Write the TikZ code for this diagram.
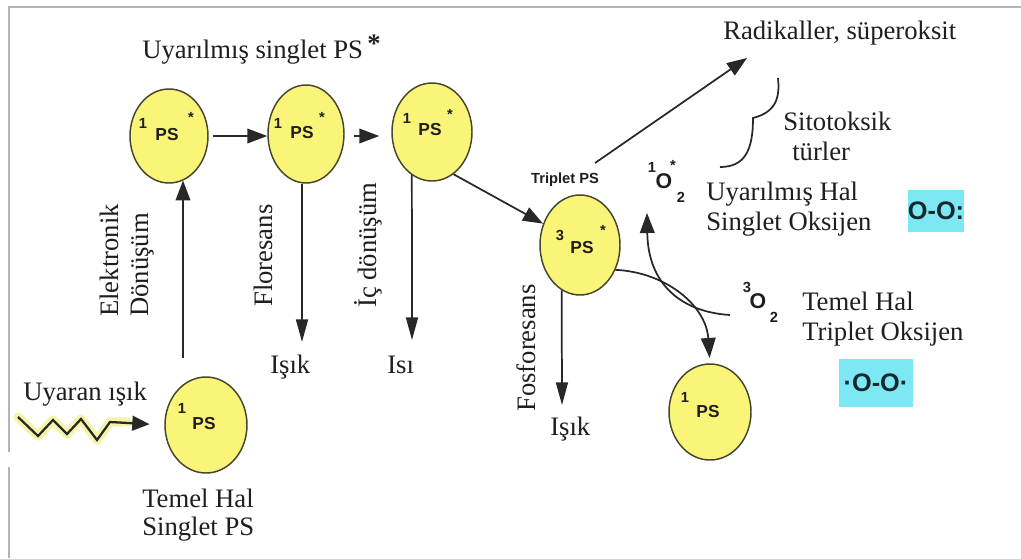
\documentclass[tikz,border=0pt]{standalone}
\usepackage{fontspec}
\setmainfont{Liberation Serif}
\newfontfamily\arialf{Liberation Sans}
\usetikzlibrary{shapes.geometric,arrows.meta}
\definecolor{psfill}{RGB}{250,245,120}
\definecolor{psdraw}{RGB}{70,70,45}
\definecolor{lnc}{RGB}{40,40,40}
\definecolor{boxc}{RGB}{125,232,243}
\definecolor{boxtxt}{RGB}{20,40,45}
\definecolor{framec}{RGB}{180,180,180}
\definecolor{txtc}{RGB}{30,30,30}
\definecolor{glowc}{RGB}{245,245,170}
\begin{document}
\begin{tikzpicture}[x=0.75pt,y=-0.75pt,
 psell/.style={ellipse, draw=psdraw, fill=psfill, line width=1.1pt, inner sep=0pt, minimum width=59pt, minimum height=72pt},
 arr/.style={draw=lnc, line width=1.3pt, -{Triangle[length=15pt,width=11pt]}},
 varr/.style={draw=lnc, line width=1.3pt, -{Triangle[length=17pt,width=9pt]}},
 lbl/.style={font=\fontsize{20}{22}\selectfont, inner sep=0pt, text=txtc},
 psf/.style={font=\arialf\bfseries\fontsize{13}{13}\selectfont, inner sep=0pt, text=txtc},
 supf/.style={font=\arialf\bfseries\fontsize{11}{11}\selectfont, inner sep=0pt, text=txtc},
 starf/.style={font=\arialf\bfseries\fontsize{11}{11}\selectfont, inner sep=0pt, text=txtc},
 of/.style={font=\arialf\bfseries\fontsize{16}{16}\selectfont, inner sep=0pt, text=txtc},
 smallbold/.style={font=\arialf\bfseries\fontsize{11}{11}\selectfont, inner sep=0pt, text=txtc},
 cyanbox/.style={fill=boxc, inner sep=0pt, font=\arialf\bfseries\fontsize{19}{19}\selectfont, text=boxtxt}
]
\useasboundingbox (0,0) rectangle (1021,558);
\fill[white] (0,0) rectangle (1021,558);
% frame
\draw[framec, line width=1.5pt] (9,558) -- (9,467);
\draw[framec, line width=1.5pt] (9,452) -- (9,7) -- (1021,7);

% ellipses
\node[psell, minimum width=58.5pt, minimum height=70.5pt] (e1) at (169,136) {};
\node[psell, minimum width=57pt, minimum height=73.5pt] (e2) at (306,134) {};
\node[psell, minimum width=60pt, minimum height=73.5pt] (e3) at (432,132) {};
\node[psell, minimum width=60pt, minimum height=75pt] (t) at (580,245) {};
\node[psell, minimum width=61.5pt, minimum height=72pt] (e0) at (206,425) {};
\node[psell, minimum width=61.5pt, minimum height=72pt] (e5) at (710,412) {};

% ellipse contents
\node[supf] at ([shift={(-26,-13)}]e1.center) {1};
\node[psf] at ([shift={(-2,-1)}]e1.center) {PS};
\node[starf] at ([shift={(22,-19)}]e1.center) {*};
\node[supf] at ([shift={(-28,-11)}]e2.center) {1};
\node[psf] at ([shift={(-4,-1)}]e2.center) {PS};
\node[starf] at ([shift={(16,-17)}]e2.center) {*};
\node[supf] at ([shift={(-25,-14)}]e3.center) {1};
\node[psf] at ([shift={(-2,-2)}]e3.center) {PS};
\node[starf] at ([shift={(18,-18)}]e3.center) {*};
\node[supf] at ([shift={(-20,-10)}]t.center) {3};
\node[psf] at ([shift={(2,3)}]t.center) {PS};
\node[starf] at ([shift={(23,-15)}]t.center) {*};
\node[supf] at ([shift={(-24,-17)}]e0.center) {1};
\node[psf] at ([shift={(-2,-1)}]e0.center) {PS};
\node[supf] at ([shift={(-25,-15)}]e5.center) {1};
\node[psf] at ([shift={(-2,0)}]e5.center) {PS};

% labels
\node[lbl, anchor=base west] (title) at (142,58) {Uyarılmış singlet PS\,\raisebox{4pt}{\textbf{*}}};
\node[lbl, anchor=base west] (rad) at (723,39) {Radikaller, süperoksit};
\node[lbl, anchor=base west] (sito) at (783,130) {Sitotoksik};
\node[lbl, anchor=base west] (turler) at (792,160) {türler};
\node[lbl, anchor=base west] (uh) at (706,200) {Uyarılmış Hal};
\node[lbl, anchor=base west] (so) at (706,230) {Singlet Oksijen};
\node[lbl, anchor=base west] (th2) at (802,310) {Temel Hal};
\node[lbl, anchor=base west] (to) at (802,340) {Triplet Oksijen};
\node[lbl, anchor=base west] (isik1) at (270,373) {Işık};
\node[lbl, anchor=base west] (isi) at (387,373) {Isı};
\node[lbl, anchor=base west] (isik2) at (550,435) {Işık};
\node[lbl, anchor=base west] (uyaran) at (23,400) {Uyaran ışık};
\node[lbl, anchor=base west] (th1) at (142,507) {Temel Hal};
\node[lbl, anchor=base west] (sps) at (142,535) {Singlet PS};
\node[smallbold] (tl) at (565,180) {Triplet PS};

% rotated labels
\node[lbl, rotate=90, anchor=base west] (elek) at (118,317) {Elektronik};
\node[lbl, rotate=90, anchor=base west] (donu) at (148,317) {Dönüşüm};
\node[lbl, rotate=90, anchor=base west] (flor) at (272,307) {Floresans};
\node[lbl, rotate=90, anchor=base west] (ic) at (376,308) {İç dönüşüm};
\node[lbl, rotate=90, anchor=base west] (fosf) at (535,412) {Fosforesans};

% oxygen symbols
\node[supf] (o1s) at (652,167) {1};
\node[of] (o1) at (664,181) {O};
\node[starf] (o1st) at (673,165) {*};
\node[supf] (o1b) at (681,197) {2};
\node[supf] (o3s) at (747,287) {3};
\node[of] (o3) at (758,301) {O};
\node[supf] (o3b) at (774,317) {2};

% cyan boxes
\node[cyanbox, minimum width=40pt, minimum height=32pt] (b1) at (936,211) {O-O:};
\node[cyanbox, minimum width=55pt, minimum height=36pt] (b2) at (876,383) {·O-O·};

% coordinates for free ends
\coordinate (s0) at (183,358);
\coordinate (f1) at (302,342);
\coordinate (f2) at (412,340);
\coordinate (f3) at (562,405);
\coordinate (rs) at (595,163);
\coordinate (re) at (747,58);
\coordinate (cs) at (730,315);
\coordinate (ce) at (647,213);

% connectors
\draw[arr] (s0) -- (s0 |- e1.-72);
\draw[arr, shorten <=3pt] (e1.east) -- (e2.west |- e1.east);
\draw[arr, shorten <=7pt, shorten >=9pt] (e2.east |- e1.east) -- (e3.west |- e1.east);
\draw[arr] (e3.-63) -- (t.150);
\draw[varr] (f1 |- e2.south) -- (f1);
\draw[varr] (e3.-115) -- (f2);
\draw[varr] (t.-112) -- (f3);
\draw[arr] (rs) -- (re);
\draw[arr, shorten >=4pt] (t.-35) .. controls (665,272) and (706,305) .. (e5.north);
\draw[arr] (cs) .. controls (682,312) and (648,285) .. (ce);

% brace
\draw[lnc, line width=1.3pt] (778,78) .. controls (780,98) and (776,112) .. (753,118)
   .. controls (753,150) and (745,167) .. (720,167);

% exciting light zigzag
\draw[glowc, line width=7pt, line join=round, line cap=round] (18,417) -- (38,436) -- (53,420) -- (67,434) -- (81,419) -- (97,440) -- (110,422) -- (128,422);
\draw[draw=lnc, line width=1.7pt, line join=miter, shorten >=11pt, -{Triangle[length=13pt,width=11pt]}] (18,417) -- (38,436) -- (53,420) -- (67,434) -- (81,419) -- (97,440) -- (110,422) -- (e0.west);
\end{tikzpicture}
\end{document}
